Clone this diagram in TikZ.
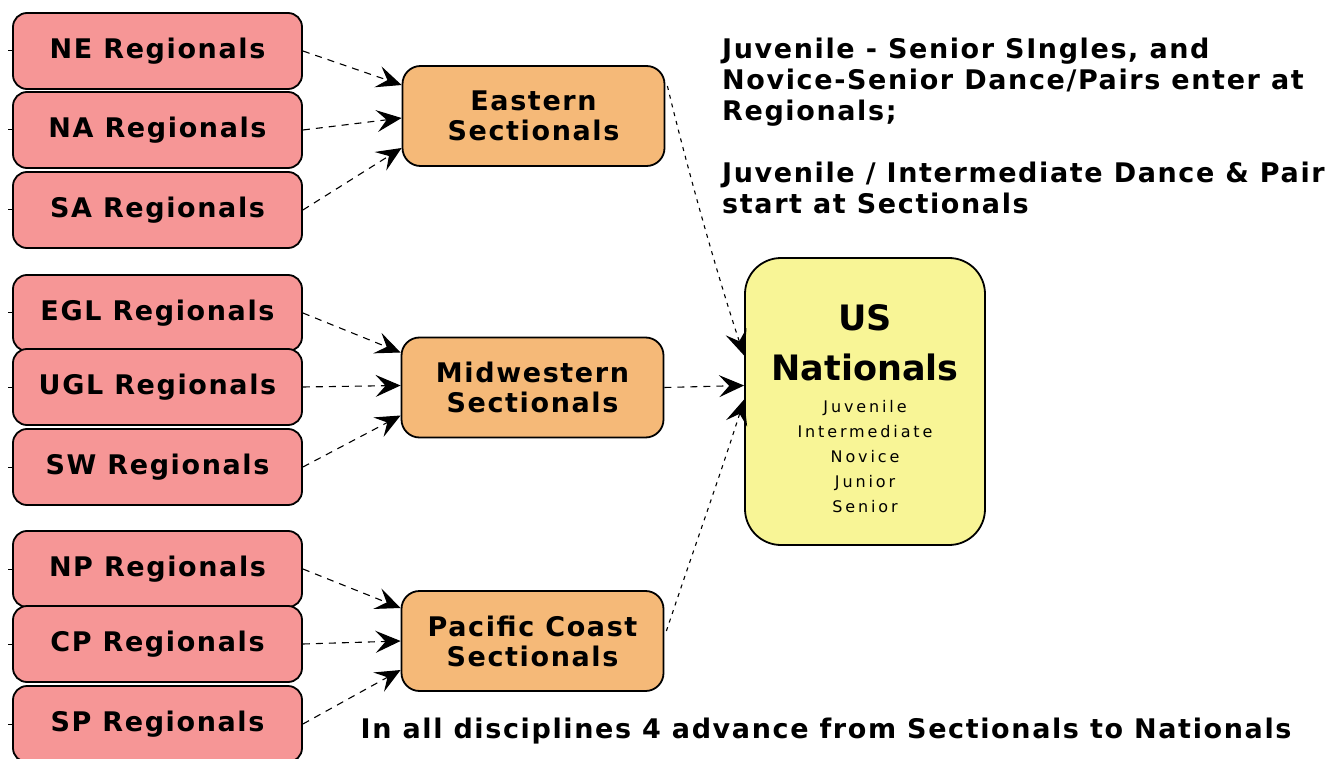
\documentclass[tikz,border=0pt]{standalone}
\usepackage{fontspec}
\setmainfont{DejaVu Sans}
\newfontfamily\bxfont{DejaVu Sans}[LetterSpace=6]
\newfontfamily\lsfont{DejaVu Sans}[LetterSpace=18]
\usetikzlibrary{arrows.meta,calc}
\definecolor{regpink}{RGB}{246,150,150}
\definecolor{secorange}{RGB}{245,185,120}
\definecolor{natyellow}{RGB}{248,245,150}
\tikzset{
  boxbase/.style={draw=black, line width=1.8pt, align=center, inner sep=0pt},
  reg/.style={boxbase, fill=regpink, rounded corners=14pt, minimum width=289pt, minimum height=76pt,
    font=\bxfont\bfseries\fontsize{27}{30}\selectfont},
  sec/.style={boxbase, fill=secorange, rounded corners=18pt, minimum width=262pt, minimum height=100pt,
    font=\bxfont\bfseries\fontsize{27}{30}\selectfont},
  nat/.style={boxbase, fill=natyellow, rounded corners=36pt, minimum width=240pt, minimum height=287pt},
  tip/.style={-{Stealth[length=25pt,width=22pt,inset=10pt]}},
  conn/.style={tip, line width=1.1pt, dash pattern=on 7pt off 6pt},
  fconn/.style={tip, line width=1.1pt, dash pattern=on 4pt off 5pt},
  stub/.style={line width=1pt},
  note/.style={align=left, inner sep=0pt, font=\bxfont\bfseries\fontsize{27}{31}\selectfont},
  nattitle/.style={align=center, inner sep=0pt, font=\bfseries\fontsize{35}{50}\selectfont},
  natlist/.style={align=center, inner sep=0pt, font=\lsfont\fontsize{16}{25}\selectfont}
}
\begin{document}
\begin{tikzpicture}[x=1pt, y=-1pt]
\useasboundingbox (0,0) rectangle (1325,759);
% regionals
\node[reg] (NE)  at (157.5,51)  {NE Regionals};
\node[reg] (NA)  at (157.5,130) {NA Regionals};
\node[reg] (SA)  at (157.5,210) {SA Regionals};
\node[reg] (EGL) at (157.5,313) {EGL Regionals};
\node[reg] (UGL) at (157.5,387) {UGL Regionals};
\node[reg] (SW)  at (157.5,467) {SW Regionals};
\node[reg] (NP)  at (157.5,569) {NP Regionals};
\node[reg] (CP)  at (157.5,644) {CP Regionals};
\node[reg] (SP)  at (157.5,724) {SP Regionals};
% sectionals
\node[sec] (ES) at (533.5,116) {Eastern\\Sectionals};
\node[sec] (MS) at (532.5,387.5) {Midwestern\\Sectionals};
\node[sec] (PS) at (532.5,641) {Pacific Coast\\Sectionals};
% nationals
\node[nat] (US) at (865,401.5) {};
\node[nattitle] (UStitle) at (865,343) {US\\Nationals};
\node[natlist] (USlist) at (865,457) {Juvenile\\Intermediate\\Novice\\Junior\\Senior};
% notes
\node[note, anchor=north west] (N1) at (722,38) {Juvenile - Senior SIngles, and\\Novice-Senior Dance/Pairs enter at\\Regionals;\\[31pt]Juvenile / Intermediate Dance \& Pair\\start at Sectionals};
\node[note] (N2) at (826,731) {In all disciplines 4 advance from Sectionals to Nationals};
% stubs
\foreach \r in {NE,NA,SA,EGL,UGL,SW,NP,CP,SP} \draw[stub] (\r.west) -- ++(-4,0);
% connectors regionals -> sectionals
\draw[conn] (NE.east) -- ($(ES.west)+(0,-31)$);
\draw[conn] (NA.east) -- ($(ES.west)+(0,2)$);
\draw[conn] (SA.east) -- ($(ES.west)+(0,32)$);
\draw[conn] (EGL.east) -- ($(MS.west)+(0,-35)$);
\draw[conn] (UGL.east) -- ($(MS.west)+(0,-2)$);
\draw[conn] (SW.east) -- ($(MS.west)+(0,28)$);
\draw[conn] (NP.east) -- ($(PS.west)+(0,-33)$);
\draw[conn] (CP.east) -- (PS.west);
\draw[conn] (SP.east) -- ($(PS.west)+(0,29)$);
% sectionals -> nationals
\draw[fconn] ($(ES.east)+(2,-30)$) .. controls (690,180) and (722,290) .. ($(US.west)+(0,-46)$);
\draw[conn] (MS.east) -- ($(US.west)+(0,-16)$);
\draw[fconn] ($(PS.east)+(2,-10)$) .. controls (690,560) and (722,470) .. ($(US.west)+(0,-2)$);
\end{tikzpicture}
\end{document}
